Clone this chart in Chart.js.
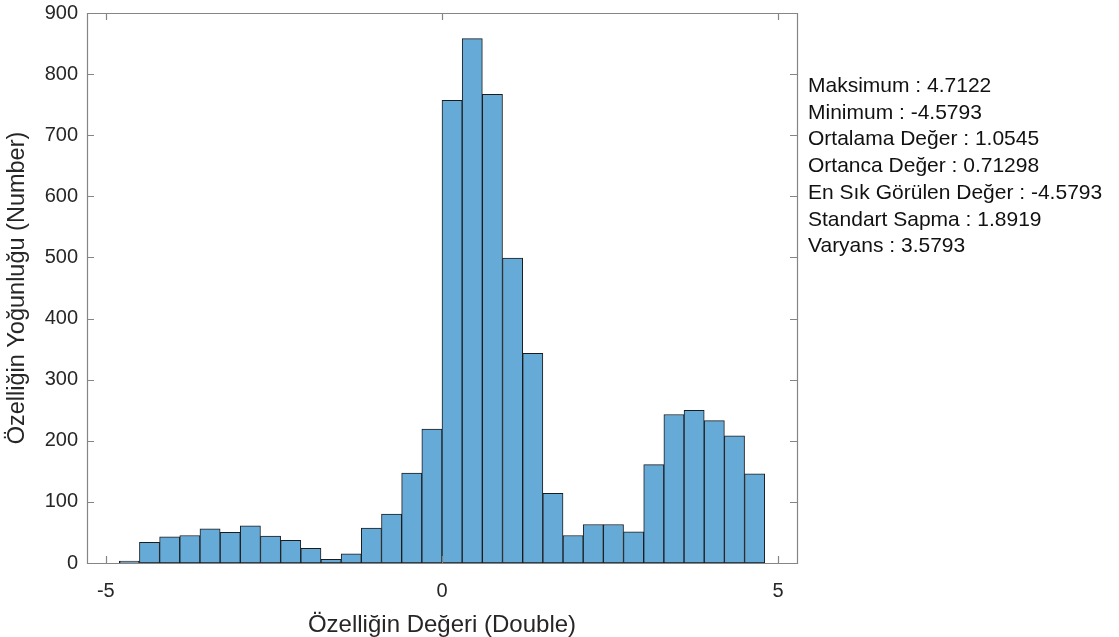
<!DOCTYPE html>
<html>
<head>
<meta charset="utf-8">
<script src="https://cdn.jsdelivr.net/npm/chart.js@4"></script>
<style>
  html, body { margin: 0; padding: 0; background: #fff; }
  #wrap { width: 1119px; height: 637px; }
</style>
</head>
<body>
<div id="wrap"><canvas id="chartJSContainer" width="1119" height="637"></canvas></div>
<script>
// histogram bins: width 0.3, from -4.8 to 4.8
var binStart = -4.8;
var binWidth = 0.3;
var counts = [3, 34, 43, 45, 56, 50, 61, 44, 37, 24, 6, 15, 57, 80, 147, 219,
              757, 858, 767, 499, 343, 114, 45, 63, 63, 51, 161, 243, 250, 233, 208, 146];
var xTicks = [-5, 0, 5];
var yTicks = [0, 100, 200, 300, 400, 500, 600, 700, 800, 900];
var statLines = [
  "Maksimum : 4.7122",
  "Minimum : -4.5793",
  "Ortalama Değer : 1.0545",
  "Ortanca Değer : 0.71298",
  "En Sık Görülen Değer : -4.5793",
  "Standart Sapma : 1.8919",
  "Varyans : 3.5793"
];

var points = counts.map(function (c, i) {
  return { x: binStart + binWidth * (i + 0.5), y: c };
});

var textColor = "#262626";
var axisColor = "#858585";
var fontFamily = "'Liberation Sans', Arial, Helvetica, sans-serif";

// box + inward ticks on all four sides (MATLAB look), plus the stats text
var boxPlugin = {
  id: "boxTicks",
  afterDatasetsDraw: function (chart) {
    var ctx = chart.ctx;
    var a = chart.chartArea;
    var xs = chart.scales.x, ys = chart.scales.y;
    var tl = 7;
    ctx.save();
    ctx.strokeStyle = axisColor;
    ctx.lineWidth = 1.2;
    ctx.beginPath();
    ctx.rect(a.left + 0.5, a.top + 0.5, a.right - a.left, a.bottom - a.top);
    xTicks.forEach(function (v) {
      var px = Math.round(xs.getPixelForValue(v)) + 0.5;
      ctx.moveTo(px, a.bottom); ctx.lineTo(px, a.bottom - tl);
      ctx.moveTo(px, a.top); ctx.lineTo(px, a.top + tl);
    });
    yTicks.forEach(function (v) {
      var py = Math.round(ys.getPixelForValue(v)) + 0.5;
      ctx.moveTo(a.left, py); ctx.lineTo(a.left + tl, py);
      ctx.moveTo(a.right, py); ctx.lineTo(a.right - tl, py);
    });
    ctx.stroke();

    ctx.fillStyle = "#111";
    ctx.font = "21px " + fontFamily;
    ctx.textBaseline = "alphabetic";
    ctx.textAlign = "left";
    statLines.forEach(function (s, i) {
      ctx.fillText(s, 808, 92 + i * 26.7);
    });
    ctx.restore();
  }
};

var options = {
  type: "bar",
  data: {
    datasets: [
      {
        label: "Histogram",
        data: points,
        backgroundColor: "#66aad7",
        borderColor: "#1c1c1c",
        borderWidth: 1,
        borderSkipped: false,
        barPercentage: 1,
        categoryPercentage: 1,
      },
    ],
  },
  options: {
    responsive: false,
    animation: false,
    layout: { padding: { top: 13, right: 322, bottom: 0, left: 0 } },
    plugins: { legend: { display: false }, tooltip: { enabled: false } },
    scales: {
      x: {
        type: "linear",
        offset: false,
        min: -5.28,
        max: 5.28,
        afterBuildTicks: function (scale) {
          scale.ticks = xTicks.map(function (v) { return { value: v }; });
        },
        afterFit: function (scale) {
          scale.height = 74;
          scale.paddingLeft = 0;
          scale.paddingRight = 0;
        },
        grid: { display: false, drawTicks: false },
        border: { display: false },
        ticks: {
          color: textColor,
          padding: 16,
          autoSkip: false,
          maxRotation: 0,
          font: { family: fontFamily, size: 20 },
        },
        title: {
          display: true,
          text: "Özelliğin Değeri (Double)",
          color: textColor,
          padding: { top: 0, bottom: 0 },
          font: { family: fontFamily, size: 24, lineHeight: 1.0 },
        },
      },
      y: {
        min: 0,
        max: 900,
        afterBuildTicks: function (scale) {
          scale.ticks = yTicks.map(function (v) { return { value: v }; });
        },
        afterFit: function (scale) {
          scale.width = 87;
          scale.paddingTop = 0;
          scale.paddingBottom = 0;
        },
        grid: { display: false, drawTicks: false },
        border: { display: false },
        ticks: {
          color: textColor,
          padding: 9,
          font: { family: fontFamily, size: 20 },
        },
        title: {
          display: true,
          text: "Özelliğin Yoğunluğu (Number)",
          color: textColor,
          padding: { top: 3.5, bottom: 0 },
          font: { family: fontFamily, size: 23.5 },
        },
      },
    },
  },
  plugins: [boxPlugin],
};

var ctx = document.getElementById("chartJSContainer").getContext("2d");
var myChart = new Chart(ctx, options);
</script>
</body>
</html>
